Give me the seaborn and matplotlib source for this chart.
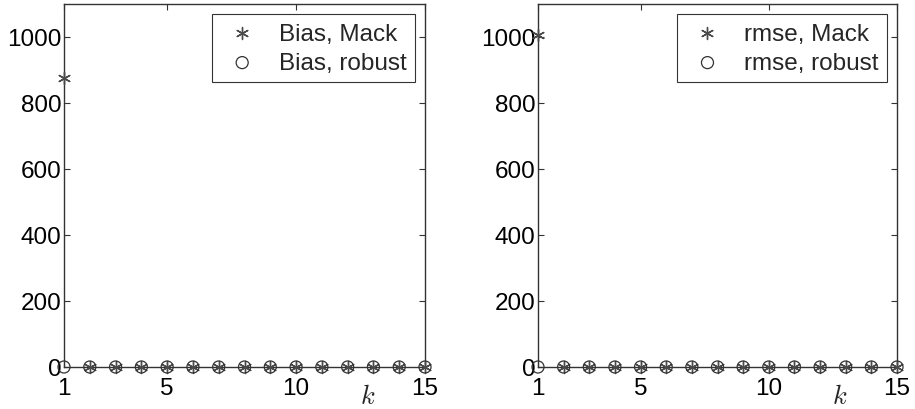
import numpy as np
import pandas as pd
import matplotlib
matplotlib.use("Agg")
import matplotlib.pyplot as plt
import seaborn as sns

k = list(range(1, 16))
bias_mack = [875] + [0] * 14
bias_robust = [0] * 15
rmse_mack = [1005] + [0] * 14
rmse_robust = [0] * 15
xticks = [1, 5, 10, 15]
yticks = [0, 200, 400, 600, 800, 1000]

sns.set_style("ticks")
plt.rcParams['font.family'] = ['Liberation Sans', 'DejaVu Sans']
plt.rcParams['mathtext.fontset'] = 'cm'

fig = plt.figure(figsize=(9.15, 4.1), dpi=100)
ax1 = fig.add_axes([64/915, 1-368/410, 361/915, 363/410])
ax2 = fig.add_axes([538/915, 1-368/410, 359/915, 363/410])

panels = [
    (ax1, bias_mack, bias_robust, "Bias, Mack", "Bias, robust"),
    (ax2, rmse_mack, rmse_robust, "rmse, Mack", "rmse, robust"),
]
for ax, mack, rob, lm, lr in panels:
    df_m = pd.DataFrame({"k": k, "v": mack})
    df_r = pd.DataFrame({"k": k, "v": rob})
    sns.scatterplot(data=df_m, x="k", y="v", ax=ax, marker=(6, 2, 0), s=75,
                    color="#4a4a4a", edgecolor="#4a4a4a", linewidth=1.0, label=lm,
                    zorder=3, clip_on=False)
    sns.scatterplot(data=df_r, x="k", y="v", ax=ax, marker="o", s=75,
                    facecolor="none", edgecolor="#333333", linewidth=0.9, label=lr,
                    zorder=3, clip_on=False)
    ax.set_xlim(1, 15)
    ax.set_ylim(0, 1100)
    ax.set_xticks(xticks)
    ax.set_yticks(yticks)
    ax.tick_params(direction="in", top=True, right=True, labelsize=17.5, length=4,
                   width=0.8, color="#333333", labelcolor="black")
    ax.tick_params(axis="x", pad=7)
    ax.tick_params(axis="y", pad=2)
    for sp in ax.spines.values():
        sp.set_visible(True)
        sp.set_linewidth(1.0)
        sp.set_color("#333333")
    ax.set_ylabel("")
    ax.set_xlabel("")
    ax.text(0.84, -0.08, "$k$", transform=ax.transAxes, fontsize=19,
            ha="center", va="center")
    leg = ax.legend(loc="upper right", fontsize=17.5, frameon=True, fancybox=False,
                    edgecolor="black", borderpad=0.35, handletextpad=0.6,
                    labelspacing=0.3, handlelength=1.8, borderaxespad=0,
                    bbox_to_anchor=(0.972, 0.972))
    leg.get_frame().set_linewidth(0.8)

fig.savefig("out.png", dpi=100)
